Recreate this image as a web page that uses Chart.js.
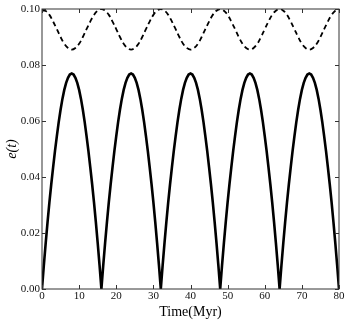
<!DOCTYPE html>
<html>
<head>
<meta charset="utf-8">
<script src="https://cdn.jsdelivr.net/npm/chart.js@4"></script>
<style>
html,body{margin:0;padding:0;background:#fff;}
#wrap{width:349px;height:323px;}
</style>
</head>
<body>
<div id="wrap"><canvas id="c" width="349" height="323"></canvas></div>
<script>
// Solid curve e(t): time (Myr) and values
const solidTime = [
0,0.5,1,1.5,2,2.5,3,3.5,4,4.5,5,5.5,6,6.5,7,7.5,8,8.5,9,9.5,10,10.5,11,11.5,12,12.5,13,13.5,14,14.5,15,15.5,16,
16.5,17,17.5,18,18.5,19,19.5,20,20.5,21,21.5,22,22.5,23,23.5,24,24.5,25,25.5,26,26.5,27,27.5,28,28.5,29,29.5,30,30.5,31,31.5,32,
32.5,33,33.5,34,34.5,35,35.5,36,36.5,37,37.5,38,38.5,39,39.5,40,40.5,41,41.5,42,42.5,43,43.5,44,44.5,45,45.5,46,46.5,47,47.5,48,
48.5,49,49.5,50,50.5,51,51.5,52,52.5,53,53.5,54,54.5,55,55.5,56,56.5,57,57.5,58,58.5,59,59.5,60,60.5,61,61.5,62,62.5,63,63.5,64,
64.5,65,65.5,66,66.5,67,67.5,68,68.5,69,69.5,70,70.5,71,71.5,72,72.5,73,73.5,74,74.5,75,75.5,76,76.5,77,77.5,78,78.5,79,79.5,80
];
const solidE = [
0,
0.0085,0.0165,0.0240,0.0310,0.0375,0.0435,0.0493,0.0546,0.0596,0.0640,0.0679,0.0711,0.0736,0.0754,0.0766,0.0770,0.0766,0.0754,0.0736,0.0711,0.0679,0.0640,0.0596,0.0546,0.0493,0.0435,0.0375,0.0310,0.0240,0.0165,0.0085,0,
0.0085,0.0165,0.0240,0.0310,0.0375,0.0435,0.0493,0.0546,0.0596,0.0640,0.0679,0.0711,0.0736,0.0754,0.0766,0.0770,0.0766,0.0754,0.0736,0.0711,0.0679,0.0640,0.0596,0.0546,0.0493,0.0435,0.0375,0.0310,0.0240,0.0165,0.0085,0,
0.0085,0.0165,0.0240,0.0310,0.0375,0.0435,0.0493,0.0546,0.0596,0.0640,0.0679,0.0711,0.0736,0.0754,0.0766,0.0770,0.0766,0.0754,0.0736,0.0711,0.0679,0.0640,0.0596,0.0546,0.0493,0.0435,0.0375,0.0310,0.0240,0.0165,0.0085,0,
0.0085,0.0165,0.0240,0.0310,0.0375,0.0435,0.0493,0.0546,0.0596,0.0640,0.0679,0.0711,0.0736,0.0754,0.0766,0.0770,0.0766,0.0754,0.0736,0.0711,0.0679,0.0640,0.0596,0.0546,0.0493,0.0435,0.0375,0.0310,0.0240,0.0165,0.0085,0,
0.0085,0.0165,0.0240,0.0310,0.0375,0.0435,0.0493,0.0546,0.0596,0.0640,0.0679,0.0711,0.0736,0.0754,0.0766,0.0770,0.0766,0.0754,0.0736,0.0711,0.0679,0.0640,0.0596,0.0546,0.0493,0.0435,0.0375,0.0310,0.0240,0.0165,0.0085,0
];
// Dashed curve: time (Myr) and values
const dashTime = [
0,1,2,3,4,5,6,7,8,9,10,11,12,13,14,15,16,17,18,19,20,21,22,23,24,25,26,27,28,29,30,31,32,
33,34,35,36,37,38,39,40,41,42,43,44,45,46,47,48,49,50,51,52,53,54,55,56,57,58,59,60,61,62,63,64,
65,66,67,68,69,70,71,72,73,74,75,76,77,78,79,80
];
const dashE = [
0.0994,
0.0993,0.0979,0.0955,0.0928,0.0900,0.0876,0.0861,0.0855,0.0861,0.0876,0.0900,0.0928,0.0955,0.0979,0.0994,0.1000,
0.0994,0.0979,0.0955,0.0928,0.0900,0.0876,0.0861,0.0855,0.0861,0.0876,0.0900,0.0928,0.0955,0.0979,0.0994,0.1000,
0.0994,0.0979,0.0955,0.0928,0.0900,0.0876,0.0861,0.0855,0.0861,0.0876,0.0900,0.0928,0.0955,0.0979,0.0994,0.1000,
0.0994,0.0979,0.0955,0.0928,0.0900,0.0876,0.0861,0.0855,0.0861,0.0876,0.0900,0.0928,0.0955,0.0979,0.0994,0.1000,
0.0994,0.0979,0.0955,0.0928,0.0900,0.0876,0.0861,0.0855,0.0861,0.0876,0.0900,0.0928,0.0955,0.0979,0.0994,0.1000
];
const xTicks = [0,10,20,30,40,50,60,70,80];
const yTicks = [0.00,0.02,0.04,0.06,0.08,0.10];
const xTitle = 'Time(Myr)';
const yTitle = 'e(t)';

const solidPts = solidTime.map((t,i)=>({x:t,y:solidE[i]}));
const dashPts = dashTime.map((t,i)=>({x:t,y:dashE[i]}));

const FONT = "'Liberation Serif','Times New Roman',serif";

const frameTicks = {
  id:'frameTicks',
  afterDatasetsDraw(chart){
    const {ctx, chartArea:a, scales:{x,y}} = chart;
    ctx.save();
    ctx.strokeStyle = '#333';
    ctx.lineWidth = 1;
    ctx.strokeRect(a.left, a.top, a.right-a.left, a.bottom-a.top);
    const L = 4;
    ctx.beginPath();
    xTicks.forEach(v=>{
      const px = Math.round(x.getPixelForValue(v))+0.5;
      ctx.moveTo(px, a.bottom); ctx.lineTo(px, a.bottom-L);
      ctx.moveTo(px, a.top); ctx.lineTo(px, a.top+L);
    });
    yTicks.forEach(v=>{
      const py = Math.round(y.getPixelForValue(v))+0.5;
      ctx.moveTo(a.left, py); ctx.lineTo(a.left+L, py);
      ctx.moveTo(a.right, py); ctx.lineTo(a.right-L, py);
    });
    ctx.stroke();
    ctx.restore();
  }
};

new Chart(document.getElementById('c'), {
  type:'line',
  data:{
    datasets:[
      {data:solidPts, borderColor:'#000', borderWidth:2.6, pointRadius:0, tension:0, fill:false},
      {data:dashPts, borderColor:'#000', borderWidth:1.8, borderDash:[5,3.5], pointRadius:0, tension:0.4, fill:false}
    ]
  },
  options:{
    responsive:false,
    animation:false,
    events:[],
    layout:{padding:{top:9,right:10,left:0,bottom:0}},
    plugins:{legend:{display:false}, tooltip:{enabled:false}},
    scales:{
      x:{
        type:'linear', min:0, max:80,
        afterBuildTicks(s){ s.ticks = xTicks.map(v=>({value:v})); },
        afterFit(s){ s.height = 34; },
        grid:{display:false, drawTicks:false},
        border:{display:false},
        ticks:{padding:1, color:'#111', font:{family:FONT, size:11}, maxRotation:0, autoSkip:false,
               callback:(v)=>String(v)},
        title:{display:true, text:xTitle, color:'#000', font:{family:FONT, size:14}, padding:{top:0,bottom:2}}
      },
      y:{
        type:'linear', min:0, max:0.1,
        afterBuildTicks(s){ s.ticks = yTicks.map(v=>({value:v})); },
        afterFit(s){ s.width = 42; },
        grid:{display:false, drawTicks:false},
        border:{display:false},
        ticks:{padding:2, color:'#111', font:{family:FONT, size:11}, autoSkip:false,
               callback:(v)=>Number(v).toFixed(2)},
        title:{display:true, text:yTitle, color:'#000', font:{family:FONT, size:14, style:'italic'}, padding:{top:4,bottom:0}}
      }
    }
  },
  plugins:[frameTicks]
});
</script>
</body>
</html>
